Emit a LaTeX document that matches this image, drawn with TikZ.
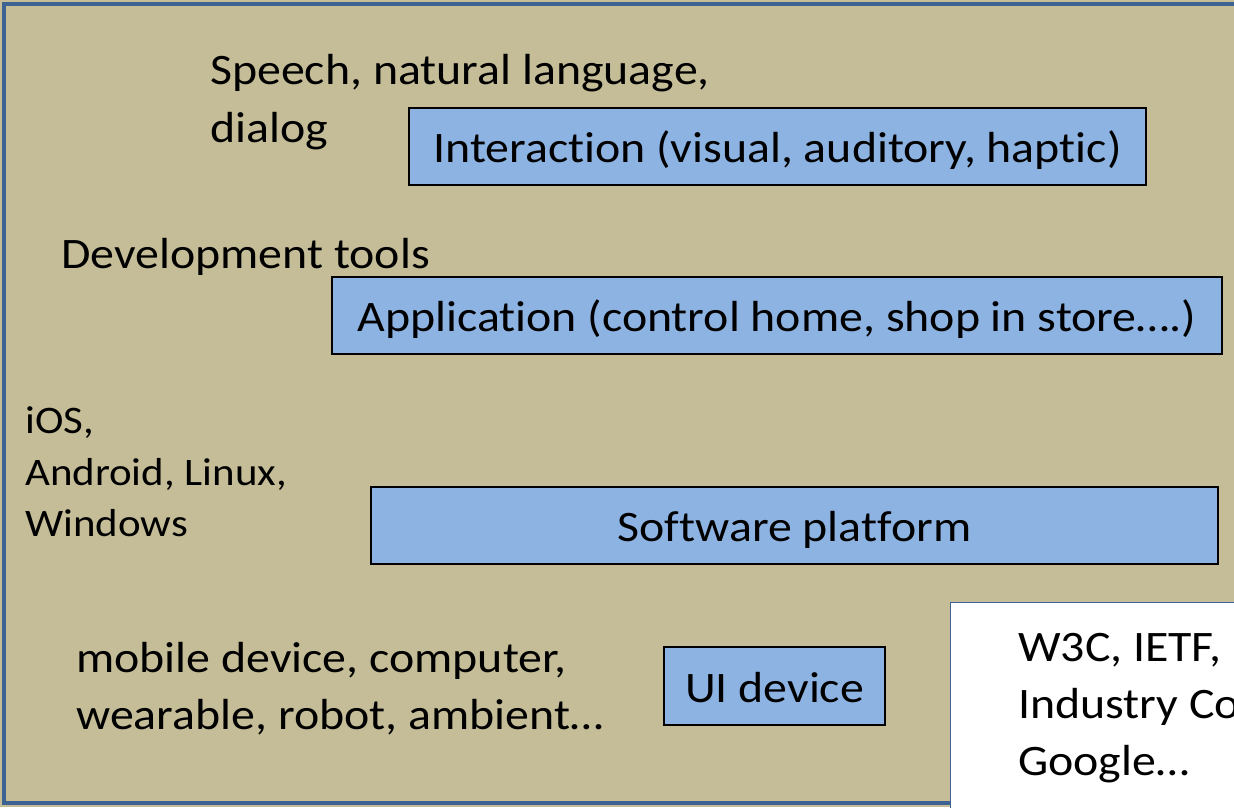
\documentclass[tikz,border=0pt]{standalone}
\usepackage{fontspec}
\setmainfont[FakeStretch=1.1, Ligatures=NoCommon]{Carlito}
\definecolor{panel}{HTML}{C4BD98}
\definecolor{frameblue}{HTML}{3E6291}
\definecolor{layerblue}{HTML}{8DB3E2}
\tikzset{
  layer/.style={draw=black, line width=1.6pt, fill=layerblue, inner sep=0pt,
    text height=32pt, text depth=0pt,
    font=\fontsize{43.5}{52}\selectfont},
  note/.style={anchor=base west, inner sep=0pt, font=\fontsize{43.5}{52}\selectfont},
  smallnote/.style={anchor=base west, inner sep=0pt, font=\fontsize{39}{47}\selectfont}
}
\begin{document}
\begin{tikzpicture}[x=1pt,y=-1pt]
\useasboundingbox (0,0) rectangle (1234,807);
\clip (0,0) rectangle (1234,807);
% panel with its frame
\fill[panel] (0,0) rectangle (1240,807);
\draw[frameblue, line width=4.5pt] (4,4) rectangle (1260,803);
% layer boxes
\node[layer, minimum width=737pt, minimum height=77pt] (interaction) at (777.5,146.5) {Interaction (visual, auditory, haptic)};
\node[layer, minimum width=890pt, minimum height=77pt] (application) at (777,315.5) {Application (control home, shop in store\dots.)};
\node[layer, minimum width=847pt, minimum height=77pt] (platform) at (794.5,525.5) {Software platform};
\node[layer, minimum width=221pt, minimum height=78pt] (uidevice) at (774.5,686) {UI device};
% standards box
\fill[white] (950,602) rectangle (1240,810);
\draw[frameblue, line width=1pt] (950,810) -- (950,602) -- (1240,602);
% side notes
\node[note] (speech) at (210,84) {Speech, natural language,};
\node[note] (dialog) at (210,142) {dialog};
\node[note] (devtools) at (61,268) {Development tools};
\node[smallnote] (ios) at (25,433) {iOS,};
\node[smallnote] (android) at (25,485) {Android, Linux,};
\node[smallnote] (windows) at (25,536) {Windows};
\node[note] (devices1) at (76,672) {mobile device, computer,};
\node[note] (devices2) at (76,729) {wearable, robot, ambient\dots};
\node[note] (std1) at (1018,661) {W3C, IETF,};
\node[note] (std2) at (1018,718) {Industry Consortia,};
\node[note] (std3) at (1018,775) {Google\dots};
\end{tikzpicture}
\end{document}
